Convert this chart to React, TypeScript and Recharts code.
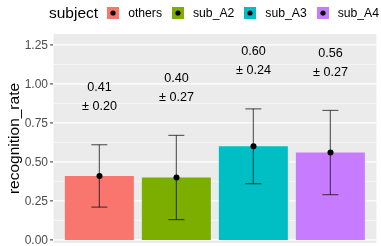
import React from 'react';
import {
  ComposedChart, Bar, Line, XAxis, YAxis, CartesianGrid, ErrorBar, LabelList, Cell,
} from 'recharts';

const subjects = ['others', 'sub_A2', 'sub_A3', 'sub_A4'];
const means = [0.41, 0.40, 0.60, 0.56];
const sds = [0.20, 0.27, 0.24, 0.27];
const colors = ['#F8766D', '#7CAE00', '#00BFC4', '#C77CFF'];
const yTicks = [0, 0.25, 0.5, 0.75, 1.0, 1.25];
const yMinor = [0.125, 0.375, 0.625, 0.875, 1.125];
const LABEL_GAP = 0.31;

const data = subjects.map((s, i) => ({
  subject: s,
  mean: means[i],
  sd: sds[i],
  labelY: means[i] + sds[i] + LABEL_GAP,
}));

const FONT = '"Liberation Sans", Arial, Helvetica, sans-serif';

const LegendBox = () => (
  <div style={{ position: 'absolute', left: 49, top: 0, height: 26, display: 'flex', alignItems: 'center', fontFamily: FONT, color: '#000', zIndex: 2 }}>
    <span style={{ fontSize: 15.5, marginRight: 9, whiteSpace: 'nowrap' }}>subject</span>
    {subjects.map((s, i) => (
      <span key={s} style={{ display: 'flex', alignItems: 'center', marginRight: 10 }}>
        <svg width={12} height={12} style={{ display: 'block' }}>
          <rect x={0} y={0} width={12} height={12} fill={colors[i]} />
          <circle cx={6} cy={6} r={2.6} fill="#000" />
        </svg>
        <span style={{ fontSize: 12.2, marginLeft: 9, whiteSpace: 'nowrap' }}>{s}</span>
      </span>
    ))}
  </div>
);

const MeanLabel = (props: any) => {
  const { x, y, index } = props;
  return (
    <text x={x} textAnchor="middle" fontFamily={FONT} fontSize={12.6} fill="#000">
      <tspan x={x} y={y - 9.5} dy="0.355em">{means[index].toFixed(2)}</tspan>
      <tspan x={x} y={y + 9.5} dy="0.355em">{'\u00b1 ' + sds[index].toFixed(2)}</tspan>
    </text>
  );
};

export default function App() {
  return (
    <div style={{ position: 'fixed', left: 0, top: 0, width: 381, height: 246 }}>
      <LegendBox />
      <ComposedChart
        width={381}
        height={246}
        data={data}
        margin={{ top: 34, right: 4, bottom: 0, left: 0 }}
        barCategoryGap="5%"
      >
        <CartesianGrid fill="#EBEBEB" stroke="#FFFFFF" strokeWidth={1.1} horizontalValues={yTicks} vertical={true} />
        <CartesianGrid stroke="#FFFFFF" strokeWidth={0.55} horizontalValues={yMinor} vertical={false} />
        <XAxis
          dataKey="subject"
          padding={{ left: 8, right: 8 }}
          axisLine={false}
          tick={false}
          tickLine={{ stroke: '#333333' }}
          tickSize={3}
          height={3}
        />
        <YAxis
          type="number"
          domain={[-0.02, 1.32]}
          allowDataOverflow
          ticks={yTicks}
          interval={0}
          tickFormatter={(v: number) => v.toFixed(2)}
          axisLine={false}
          tickLine={{ stroke: '#333333' }}
          tickSize={3}
          tickMargin={2}
          width={53}
          tick={{ fill: '#4D4D4D', fontSize: 12, fontFamily: FONT }}
          label={{
            value: 'recognition_rate', angle: -90, position: 'center', dx: -13.5,
            style: { fontSize: 15.5, fill: '#000', fontFamily: FONT, textAnchor: 'middle' },
          }}
        />
        <Bar dataKey="mean" isAnimationActive={false}>
          {data.map((d, i) => (
            <Cell key={d.subject} fill={colors[i]} />
          ))}
          <ErrorBar dataKey="sd" width={8} stroke="#000" strokeOpacity={0.6} strokeWidth={1.2} direction="y" />
        </Bar>
        <Line dataKey="mean" stroke="none" isAnimationActive={false}
          dot={{ r: 3, fill: '#000', stroke: 'none' }} activeDot={false} />
        <Line dataKey="labelY" stroke="none" isAnimationActive={false} dot={false} activeDot={false}>
          <LabelList dataKey="labelY" content={<MeanLabel />} />
        </Line>
      </ComposedChart>
    </div>
  );
}
